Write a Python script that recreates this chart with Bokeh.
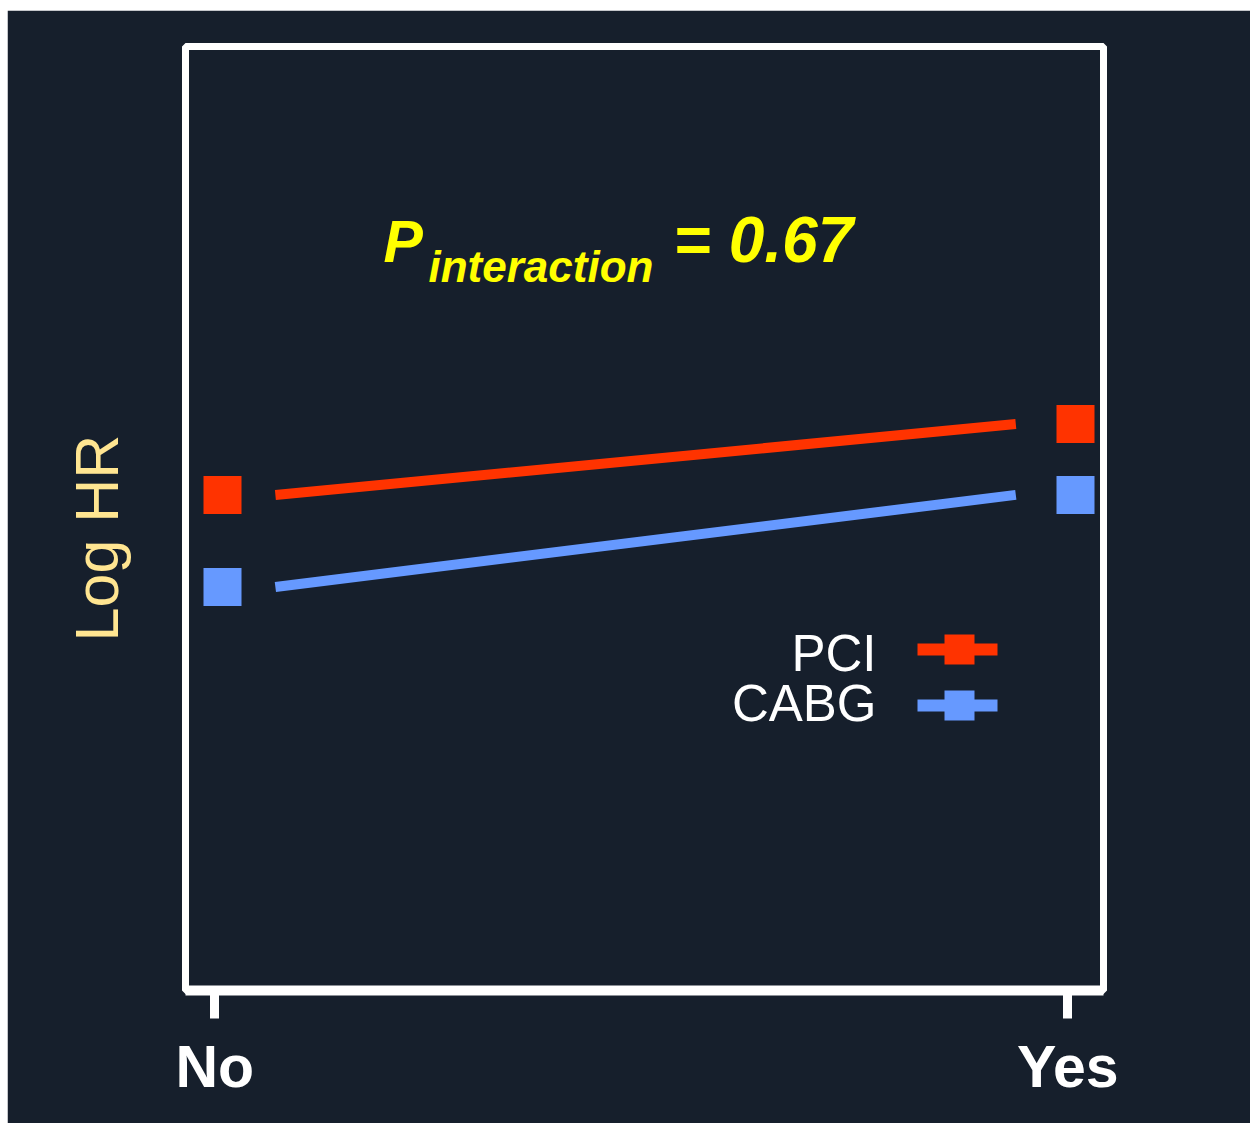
from bokeh.plotting import figure
from bokeh.models import Range1d, FixedTicker, Label, Spacer
from bokeh.layouts import column, row
from bokeh.embed import file_html
from bokeh.resources import INLINE

# ---- data ----
groups = ["No", "Yes"]
group_pos = [0.0, 1.0]
series = ["PCI", "CABG"]
pci_loghr = [0.05, 0.20]
cabg_loghr = [-0.145, 0.05]
series_values = {"PCI": pci_loghr, "CABG": cabg_loghr}
series_colors = {"PCI": "#FF3300", "CABG": "#6699FF"}
p_interaction = "0.67"
y_title = "Log HR"

# ---- layout constants ----
BG = "#161F2C"
PAGE_OFF_X, PAGE_OFF_Y = 7, 10
W, H = 1243, 1113
FL, FR, FT, FB = 178, 1096, 36, 980          # frame edges (figure px)
PX_PER_UNIT = 853.0
X_START = -37 / PX_PER_UNIT
X_END = X_START + (FR - FL) / PX_PER_UNIT
Y_START, Y_END = -1.0, 1.0
FONT = "Liberation Sans"
BASE_SHIFT = 0.37   # empirical correction for label baseline placement


def fx(page_x):
    return X_START + (page_x - PAGE_OFF_X - FL) / PX_PER_UNIT


def fy(page_y):
    return Y_START + (FB - (page_y - PAGE_OFF_Y)) / (FB - FT) * (Y_END - Y_START)


def text_label(page_x, baseline_y, text, size, **kw):
    return Label(x=fx(page_x), y=fy(baseline_y - BASE_SHIFT * size), text=text,
                 text_baseline="alphabetic", text_font=FONT,
                 text_font_size=f"{size}px", **kw)


p = figure(width=W, height=H, output_backend="svg", toolbar_location=None,
           x_range=Range1d(X_START, X_END), y_range=Range1d(Y_START, Y_END),
           min_border_left=FL, min_border_right=W - FR,
           min_border_top=FT, min_border_bottom=H - FB,
           background_fill_color=BG, border_fill_color=BG)

p.outline_line_color = "white"
p.outline_line_width = 7
p.grid.visible = False

# x axis
ax = p.xaxis[0]
tick_vals = [-0.009, 0.991]
ax.ticker = FixedTicker(ticks=tick_vals)
ax.major_label_overrides = {tick_vals[0]: groups[0], tick_vals[1]: groups[1]}
ax.axis_line_color = "white"
ax.axis_line_width = 10
ax.major_tick_line_color = "white"
ax.major_tick_line_width = 9
ax.major_tick_out = 28
ax.major_tick_in = 0
ax.minor_tick_line_color = None
ax.major_label_text_color = "white"
ax.major_label_text_font = FONT
ax.major_label_text_font_style = "bold"
ax.major_label_text_font_size = "59px"
ax.major_label_standoff = 15

# y axis: only the title (trailing fixed-width spaces shift it slightly down)
ay = p.yaxis[0]
ay.ticker = FixedTicker(ticks=[])
ay.axis_line_color = None
ay.major_tick_line_color = None
ay.minor_tick_line_color = None
ay.major_tick_out = 0
ay.major_tick_in = 0
ay.major_label_standoff = 0
ay.axis_label = y_title + "\u00a0\u00a0\u200a"
ay.axis_label_text_color = "#FFE591"
ay.axis_label_text_font = FONT
ay.axis_label_text_font_style = "normal"
ay.axis_label_text_font_size = "61px"
ay.axis_label_standoff = 55

# ---- lines with gaps and square markers ----
GAP_START, GAP_END = 0.062, 0.07
for s in series:
    vals = series_values[s]
    c = series_colors[s]
    x0, x1 = group_pos
    xa = x0 + GAP_START * (x1 - x0)
    xb = x1 - GAP_END * (x1 - x0)
    p.segment(x0=[xa], y0=[vals[0]], x1=[xb], y1=[vals[1]],
              line_color=c, line_width=10)
    p.scatter(x=group_pos, y=vals, marker="square", size=38,
              fill_color=c, line_color=c, line_width=0)

# ---- legend (text left of glyph) ----
leg_text_y = [672, 722]
leg_glyph_y = [649, 705]
for s, ty, gy in zip(series, leg_text_y, leg_glyph_y):
    c = series_colors[s]
    p.add_layout(text_label(876, ty, s, 51, text_align="right",
                            text_color="white"))
    p.segment(x0=[fx(917)], y0=[fy(gy)], x1=[fx(997)], y1=[fy(gy)],
              line_color=c, line_width=12)
    p.scatter(x=[fx(959)], y=[fy(gy)], marker="square", size=30,
              fill_color=c, line_color=c, line_width=0)

# ---- P interaction annotation ----
YEL = "#FFFF00"
p.add_layout(text_label(383, 263, "P", 59, text_color=YEL,
                        text_font_style="bold italic"))
p.add_layout(text_label(428, 282, "interaction", 44, text_color=YEL,
                        text_font_style="bold italic"))
p.add_layout(text_label(673, 263, "= " + p_interaction, 64, text_color=YEL,
                        text_font_style="bold italic"))

layout = column(Spacer(width=1250, height=PAGE_OFF_Y),
                row(Spacer(width=PAGE_OFF_X, height=H), p))

open("out.html", "w").write(file_html(layout, INLINE))
